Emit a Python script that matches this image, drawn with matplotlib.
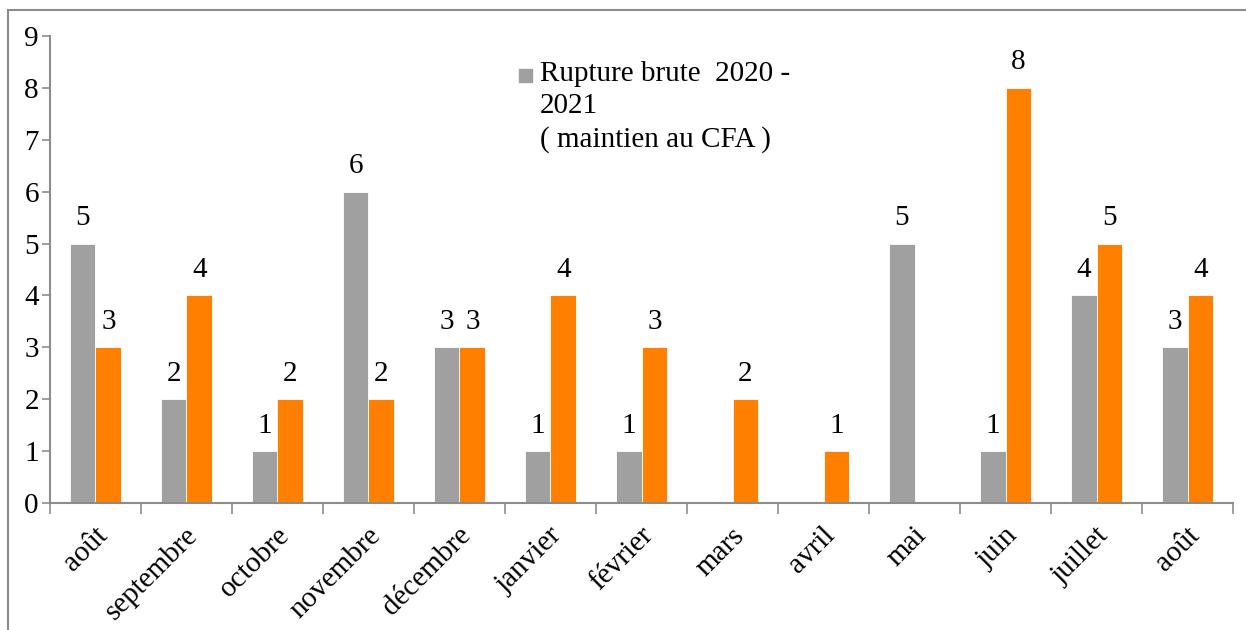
import numpy as np
import matplotlib
matplotlib.use("Agg")
import matplotlib.pyplot as plt
from matplotlib.patches import Rectangle

months = ["août", "septembre", "octobre", "novembre", "décembre", "janvier",
          "février", "mars", "avril", "mai", "juin", "juillet", "août"]
# grey series (the one shown in the legend) and orange series
rupture_2020 = [5, 2, 1, 6, 3, 1, 1, None, None, 5, 1, 4, 3]
rupture_other = [3, 4, 2, 2, 3, 4, 3, 2, 1, None, 8, 5, 4]
legend_label = "Rupture brute  2020 -\n2021\n( maintien au CFA )"

grey = "#A0A0A0"
orange = "#FF7F00"
axis_col = "#8C8C8C"

plt.rcParams["font.family"] = ["Liberation Serif", "DejaVu Serif"]

fig = plt.figure(figsize=(12.46, 6.30), dpi=100)
ax = fig.add_axes([0.0401, 0.2016, 0.9495, 0.7413])

# outer frame of the chart area
fig.patches.append(Rectangle((8 / 1246, -0.1), 1.2, 1 - 10 / 630 + 0.1,
                             transform=fig.transFigure, fill=False,
                             edgecolor=axis_col, linewidth=1.5))

x = np.arange(len(months))
w = 0.285
g = np.array([np.nan if v is None else v for v in rupture_2020], dtype=float)
o = np.array([np.nan if v is None else v for v in rupture_other], dtype=float)
bars_g = ax.bar(x - w / 2, g, w, color=grey, edgecolor="white", linewidth=0.6)
bars_o = ax.bar(x + w / 2, o, w, color=orange, edgecolor="white", linewidth=0.6)

for bars, vals in ((bars_g, g), (bars_o, o)):
    for b, v in zip(bars, vals):
        if np.isnan(v):
            continue
        ax.annotate(f"{int(v)}", (b.get_x() + b.get_width() / 2, v),
                    xytext=(0, 9), textcoords="offset points",
                    ha="center", va="bottom", fontsize=21)

ax.set_xlim(-0.5, len(months) - 0.5)
ax.set_ylim(0, 9)
ax.set_yticks(range(10))
ax.tick_params(axis="y", labelsize=21, length=6, color=axis_col, width=1.2, pad=2)

ax.set_xticks(np.arange(len(months) + 1) - 0.5)
ax.set_xticklabels([])
ax.tick_params(axis="x", length=8, color=axis_col, width=1.2, direction="out")
for i, m in enumerate(months):
    ax.annotate(m, (i, 0), xycoords=("data", "axes fraction"),
                xytext=(-1, -14), textcoords="offset points",
                ha="right", va="top", rotation=45, rotation_mode="anchor",
                fontsize=21)

for s in ("top", "right"):
    ax.spines[s].set_visible(False)
for s in ("left", "bottom"):
    ax.spines[s].set_color(axis_col)
    ax.spines[s].set_linewidth(1.5)

# legend (only the grey series is listed)
fig.patches.append(Rectangle((519 / 1246, 1 - 82 / 630), 13 / 1246, 13 / 630,
                             transform=fig.transFigure, color=grey))
fig.text(540 / 1246, 1 - 61 / 630, legend_label, fontsize=21,
         ha="left", va="top", linespacing=1.32)

fig.savefig("out.png", dpi=100)
